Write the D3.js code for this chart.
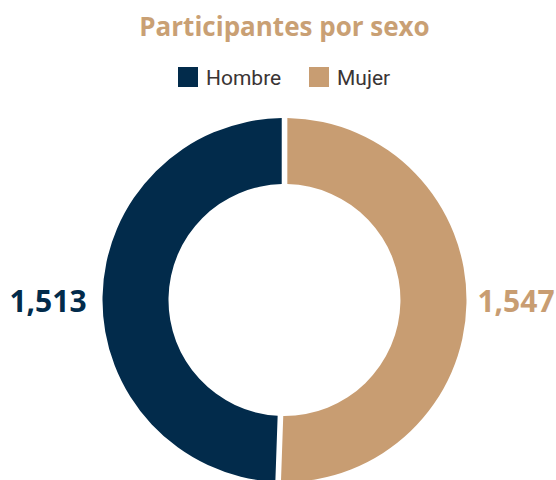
<!DOCTYPE html>
<html>
<head>
<meta charset="utf-8">
<script src="https://cdn.jsdelivr.net/npm/d3@7"></script>
<style>
  body { margin: 0; background: #fff; }
  svg { display: block; }
</style>
</head>
<body>
<div id="chart"></div>
<script>
const categories = ["Hombre", "Mujer"];
const values = [1513, 1547];
const colors = ["#022b4b", "#c89d72"];
const title = "Participantes por sexo";

const width = 556, height = 480;
const cx = 284.5, cy = 300;
const outerR = 182, innerR = 116;

const svg = d3.select("#chart")
    .append("svg")
    .attr("width", width)
    .attr("height", height);

// title
svg.append("text")
    .attr("x", cx)
    .attr("y", 36)
    .attr("text-anchor", "middle")
    .style("font-family", "'Open Sans', sans-serif")
    .style("font-weight", "700")
    .style("font-size", "26px")
    .style("fill", "#c9a074")
    .text(title);

// legend
const legendX = [178, 309];
const legend = svg.append("g");
categories.forEach(function (c, i) {
    legend.append("rect")
        .attr("x", legendX[i])
        .attr("y", 67)
        .attr("width", 20)
        .attr("height", 20)
        .style("fill", colors[i]);
    legend.append("text")
        .attr("x", legendX[i] + 28)
        .attr("y", 85)
        .style("font-family", "Roboto, sans-serif")
        .style("font-size", "21px")
        .style("fill", "#3a3434")
        .text(c);
});

const total = d3.sum(values);
const start = -values[0] / total * 2 * Math.PI;

const pie = d3.pie()
    .sort(null)
    .startAngle(start)
    .endAngle(start + 2 * Math.PI)
    .padAngle(0.026);

const arc = d3.arc()
    .innerRadius(innerR)
    .outerRadius(outerR);

const g = svg.append("g")
    .attr("transform", `translate(${cx}, ${cy})`);

g.selectAll("path")
    .data(pie(values))
    .enter()
    .append("path")
    .attr("d", arc)
    .style("fill", function (d, i) { return colors[i]; });

// value labels at the sides
const fmt = d3.format(",");
const labelX = [48, 516];
svg.selectAll(".val")
    .data(values)
    .enter()
    .append("text")
    .attr("class", "val")
    .attr("x", function (d, i) { return labelX[i]; })
    .attr("y", 312)
    .attr("text-anchor", "middle")
    .style("font-family", "'Open Sans', sans-serif")
    .style("font-weight", "700")
    .style("font-size", "30px")
    .style("fill", function (d, i) { return colors[i]; })
    .text(function (d) { return fmt(d); });
</script>
</body>
</html>
